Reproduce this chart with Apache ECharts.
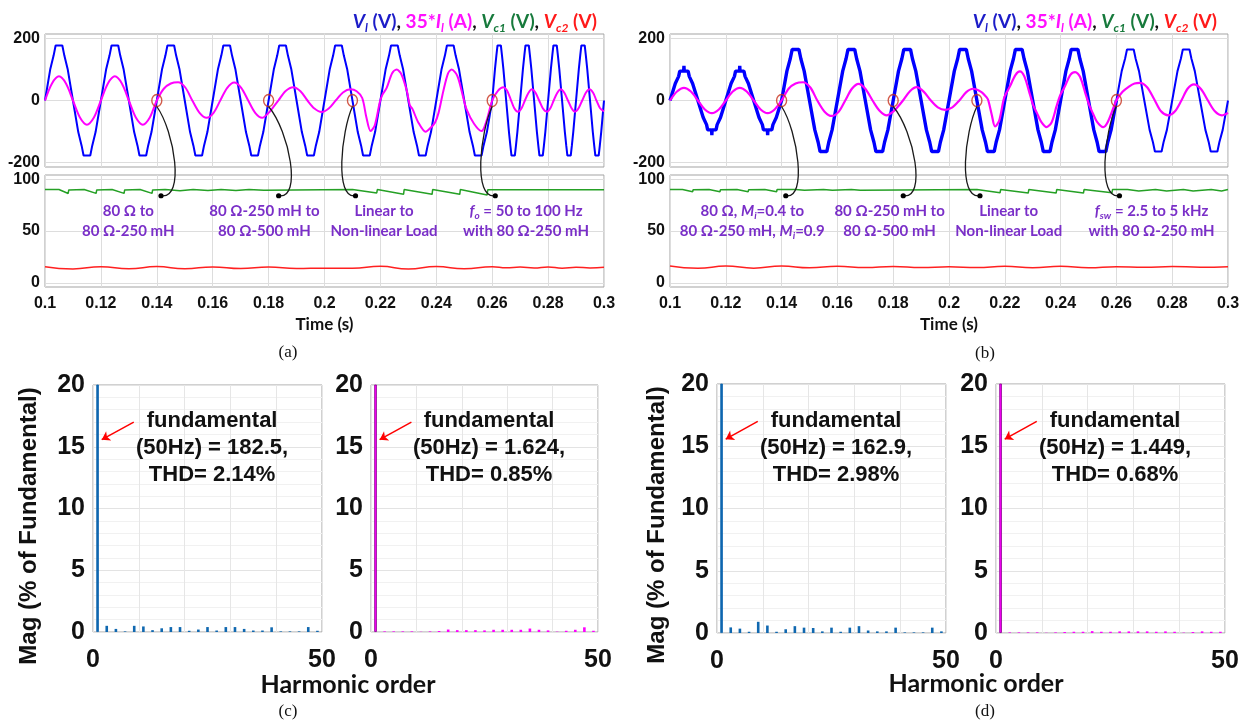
<!DOCTYPE html>
<html><head><meta charset="utf-8">
<script src="https://cdn.jsdelivr.net/npm/echarts@6/dist/echarts.min.js"></script>
<style>html,body{margin:0;padding:0;background:#fff}#c{width:1247px;height:722px}</style>
</head><body><div id="c"></div>
<script>
// ---------------- DATA ----------------
const voltTicks = [-200, 0, 200];
const capTicks = [0, 50, 100];
const harmTickLabels = [0, 50];
const changeTimes = [0.14, 0.18, 0.21, 0.26];

// (a) load voltage V_l
const blueA = [
[0.1,0],[0.1019,102],[0.1031,146],[0.1038,178],[0.1062,178],[0.1069,146],[0.1081,102],[0.11,0],[0.1119,-102],[0.1131,-146],[0.1138,-178],[0.1162,-178],[0.1169,-146],[0.1181,-102],
[0.12,0],[0.1219,102],[0.1231,146],[0.1238,178],[0.1262,178],[0.1269,146],[0.1281,102],[0.13,0],[0.1319,-102],[0.1331,-146],[0.1338,-178],[0.1362,-178],[0.1369,-146],[0.1381,-102],
[0.14,0],[0.1419,102],[0.1431,146],[0.1438,178],[0.1462,178],[0.1469,146],[0.1481,102],[0.15,0],[0.1519,-102],[0.1531,-146],[0.1538,-178],[0.1562,-178],[0.1569,-146],[0.1581,-102],
[0.16,0],[0.1619,102],[0.1631,146],[0.1638,178],[0.1662,178],[0.1669,146],[0.1681,102],[0.17,0],[0.1719,-102],[0.1731,-146],[0.1738,-178],[0.1762,-178],[0.1769,-146],[0.1781,-102],
[0.18,0],[0.1819,102],[0.1831,146],[0.1838,178],[0.1862,178],[0.1869,146],[0.1881,102],[0.19,0],[0.1919,-102],[0.1931,-146],[0.1938,-178],[0.1962,-178],[0.1969,-146],[0.1981,-102],
[0.2,0],[0.2019,102],[0.2031,146],[0.2038,178],[0.2062,178],[0.2069,146],[0.2081,102],[0.21,0],[0.2119,-102],[0.2131,-146],[0.2138,-178],[0.2162,-178],[0.2169,-146],[0.2181,-102],
[0.22,0],[0.2219,102],[0.2231,146],[0.2238,178],[0.2262,178],[0.2269,146],[0.2281,102],[0.23,0],[0.2319,-102],[0.2331,-146],[0.2338,-178],[0.2362,-178],[0.2369,-146],[0.2381,-102],
[0.24,0],[0.2419,102],[0.2431,146],[0.2438,178],[0.2462,178],[0.2469,146],[0.2481,102],[0.25,0],[0.2519,-102],[0.2531,-146],[0.2538,-178],[0.2562,-178],[0.2569,-146],[0.2581,-102],
[0.26,0],[0.261,102],[0.2615,146],[0.2619,178],[0.2631,178],[0.2635,146],[0.264,102],[0.265,0],[0.266,-102],[0.2665,-146],[0.2669,-178],[0.2681,-178],[0.2685,-146],[0.269,-102],
[0.27,0],[0.271,102],[0.2715,146],[0.2719,178],[0.2731,178],[0.2735,146],[0.274,102],[0.275,0],[0.276,-102],[0.2765,-146],[0.2769,-178],[0.2781,-178],[0.2785,-146],[0.279,-102],
[0.28,0],[0.281,102],[0.2815,146],[0.2819,178],[0.2831,178],[0.2835,146],[0.284,102],[0.285,0],[0.286,-102],[0.2865,-146],[0.2869,-178],[0.2881,-178],[0.2885,-146],[0.289,-102],
[0.29,0],[0.291,102],[0.2915,146],[0.2919,178],[0.2931,178],[0.2935,146],[0.294,102],[0.295,0],[0.296,-102],[0.2965,-146],[0.2969,-178],[0.2981,-178],[0.2985,-146],[0.299,-102],[0.3,0]];
// (a) 35*I_l
const magA = [[0.1,0],[0.1025,55],[0.105,78],[0.1075,55],[0.11,0],[0.1125,-55],[0.115,-78],[0.1175,-55],[0.12,0],[0.1225,55],[0.125,78],[0.1275,55],[0.13,0],[0.1325,-55],[0.135,-78],[0.1375,-55],
[0.14,0],[0.1425,38],[0.145,55],[0.1476,59],[0.1502,42],[0.1527,0],[0.1553,-40],[0.1578,-56],[0.1603,-40],[0.1627,0],[0.1652,41],[0.1677,58],[0.1702,41],[0.1727,0],[0.1752,-40],[0.1777,-56],[0.18,-40],
[0.1818,-20],[0.1835,0],[0.186,30],[0.1888,43],[0.1914,30],[0.1939,0],[0.1964,-26],[0.199,-37],[0.2015,-26],[0.204,0],[0.2066,26],[0.2093,36],
[0.2115,30],[0.2135,8],[0.215,-55],[0.2165,-99],[0.218,-80],[0.2198,-5],[0.2207,18],[0.2222,40],[0.2242,88],[0.2258,100],[0.2275,85],[0.2295,30],[0.2305,-15],[0.2315,-28],[0.2335,-70],[0.2362,-101],[0.238,-88],[0.2395,-72],[0.2408,-40],[0.2425,30],[0.2442,88],[0.2455,100],[0.2475,80],[0.2495,15],[0.2508,-28],[0.2535,-75],[0.2562,-99],[0.258,-65],[0.26,0],
[0.2621,32],[0.264,43],[0.2653,32],[0.2666,4],[0.2679,-25],[0.2692,-36],[0.2705,-25],[0.2717,0],[0.273,25],[0.2742,36],[0.2755,25],[0.2768,0],[0.2781,-25],[0.2795,-36],[0.2808,-25],[0.282,0],[0.2833,25],[0.2845,36],[0.2858,25],[0.2871,0],[0.2884,-25],[0.2896,-36],[0.2909,-25],[0.2922,0],[0.2935,25],[0.2948,36],[0.2961,25],[0.2973,0],[0.2986,-25],[0.3,-35]];
// (a) V_c1, V_c2
const greenA = [[0.1,90],[0.105,90],[0.1083,86.2],[0.1085,89.6],[0.114,90],[0.1183,86.3],[0.1185,89.6],[0.124,90],[0.1283,86.3],[0.1285,89.6],[0.134,90],[0.1383,86.3],[0.1385,89.6],[0.143,90],[0.1483,88.8],[0.1485,90],[0.153,90],[0.1583,89],[0.1585,90],[0.163,90],[0.1683,89],[0.1685,90],[0.173,90],[0.1783,89.2],[0.1785,90],[0.21,90],[0.2187,86.7],[0.2189,90],[0.2283,85.5],[0.2285,90],[0.2385,85.4],[0.2387,90],[0.2484,85.4],[0.2486,90],[0.2582,84.8],[0.2584,89.8],[0.3,89.8]];
const redA = [[0.1,15.6],[0.11,13.4],[0.12,15.6],[0.13,13.5],[0.14,15.7],[0.15,13.6],[0.16,15.4],[0.17,13.8],[0.18,15.3],[0.19,13.8],[0.2,14.2],[0.21,14.0],[0.22,15.9],[0.23,13.3],[0.24,15.7],[0.25,13.5],[0.26,15.5],[0.265,14.5],[0.27,15.2],[0.275,14.3],[0.28,15.3],[0.285,14.2],[0.29,15.0],[0.295,14.4],[0.3,15.0]];

// (b) load voltage V_l (2.5 kHz part, then 5 kHz part)
const blueB1 = [
[0.1,0],[0.1019,55],[0.1031,78],[0.1035,95],[0.1049,95],[0.105,112],[0.1051,95],[0.1065,95],[0.1069,78],[0.1081,55],[0.11,0],[0.1119,-55],[0.1131,-78],[0.1135,-95],[0.1149,-95],[0.115,-112],[0.1151,-95],[0.1165,-95],[0.1169,-78],[0.1181,-55],
[0.12,0],[0.1219,55],[0.1231,78],[0.1235,95],[0.1249,95],[0.125,112],[0.1251,95],[0.1265,95],[0.1269,78],[0.1281,55],[0.13,0],[0.1319,-55],[0.1331,-78],[0.1335,-95],[0.1349,-95],[0.135,-112],[0.1351,-95],[0.1365,-95],[0.1369,-78],[0.1381,-55],
[0.14,0],[0.1419,95],[0.1431,135],[0.1438,165],[0.1462,165],[0.1469,135],[0.1481,95],[0.15,0],[0.1519,-95],[0.1531,-135],[0.1538,-165],[0.1562,-165],[0.1569,-135],[0.1581,-95],
[0.16,0],[0.1619,95],[0.1631,135],[0.1638,165],[0.1662,165],[0.1669,135],[0.1681,95],[0.17,0],[0.1719,-95],[0.1731,-135],[0.1738,-165],[0.1762,-165],[0.1769,-135],[0.1781,-95],
[0.18,0],[0.1819,95],[0.1831,135],[0.1838,165],[0.1862,165],[0.1869,135],[0.1881,95],[0.19,0],[0.1919,-95],[0.1931,-135],[0.1938,-165],[0.1962,-165],[0.1969,-135],[0.1981,-95],
[0.2,0],[0.2019,95],[0.2031,135],[0.2038,165],[0.2062,165],[0.2069,135],[0.2081,95],[0.21,0],[0.2119,-95],[0.2131,-135],[0.2138,-165],[0.2162,-165],[0.2169,-135],[0.2181,-95],
[0.22,0],[0.2219,95],[0.2231,135],[0.2238,165],[0.2262,165],[0.2269,135],[0.2281,95],[0.23,0],[0.2319,-95],[0.2331,-135],[0.2338,-165],[0.2362,-165],[0.2369,-135],[0.2381,-95],
[0.24,0],[0.2419,95],[0.2431,135],[0.2438,165],[0.2462,165],[0.2469,135],[0.2481,95],[0.25,0],[0.2519,-95],[0.2531,-135],[0.2538,-165],[0.2562,-165],[0.2569,-135],[0.2581,-95],[0.26,0]];
const blueB2 = [
[0.26,0],[0.2619,95],[0.2631,135],[0.2638,165],[0.2662,165],[0.2669,135],[0.2681,95],[0.27,0],[0.2719,-95],[0.2731,-135],[0.2738,-165],[0.2762,-165],[0.2769,-135],[0.2781,-95],
[0.28,0],[0.2819,95],[0.2831,135],[0.2838,165],[0.2862,165],[0.2869,135],[0.2881,95],[0.29,0],[0.2919,-95],[0.2931,-135],[0.2938,-165],[0.2962,-165],[0.2969,-135],[0.2981,-95],[0.3,0]];
const magB = [[0.1,0],[0.1025,29],[0.105,41],[0.1075,29],[0.11,0],[0.1125,-29],[0.115,-41],[0.1175,-29],[0.12,0],[0.1225,29],[0.125,41],[0.1275,29],[0.13,0],[0.1325,-29],[0.135,-41],[0.1375,-29],
[0.14,0],[0.1425,38],[0.145,55],[0.1477,59],[0.1503,42],[0.1528,0],[0.1554,-36],[0.158,-50],[0.1605,-36],[0.1628,0],[0.1652,38],[0.1676,54],[0.17,38],[0.1726,0],[0.1752,-34],[0.1777,-48],[0.18,-36],
[0.1815,-22],[0.1835,0],[0.186,30],[0.1884,43],[0.191,28],[0.1935,0],[0.196,-22],[0.1986,-30],[0.2012,-22],[0.2037,0],[0.2062,27],[0.2086,38],
[0.2115,28],[0.2135,10],[0.2141,0],[0.2153,-45],[0.2165,-84],[0.218,-65],[0.2195,0],[0.2201,16],[0.2218,45],[0.2238,82],[0.2254,94],[0.227,78],[0.229,20],[0.2302,-16],[0.2315,-40],[0.233,-68],[0.235,-86],[0.2368,-70],[0.2385,-20],[0.2398,16],[0.2415,45],[0.2435,83],[0.2452,92],[0.247,76],[0.249,20],[0.2503,-16],[0.2515,-40],[0.253,-68],[0.2553,-86],[0.257,-68],[0.26,0],
[0.2622,28],[0.2645,45],[0.2665,55],[0.2685,57],[0.271,43],[0.2735,5],[0.276,-35],[0.2786,-48],[0.281,-35],[0.2833,0],[0.2855,38],[0.2878,52],[0.2903,37],[0.2928,0],[0.2953,-35],[0.2978,-48],[0.3,-40]];
const greenB = [[0.1,90],[0.1045,90],[0.1081,87.8],[0.1083,89.8],[0.114,90],[0.1179,87.8],[0.1181,89.8],[0.124,90],[0.128,87.8],[0.1282,89.8],[0.134,90],[0.1382,87.9],[0.1384,90],[0.145,90],[0.1482,89.2],[0.1484,90],[0.155,90],[0.1582,89.3],[0.1584,90],[0.165,90],[0.1682,89.4],[0.1684,90],[0.21,90],[0.2183,86.8],[0.2185,90],[0.2284,86.6],[0.2286,90],[0.2384,86.6],[0.2386,90],[0.2482,86.6],[0.2484,90],[0.2584,86.8],[0.2586,90],[0.264,90],[0.268,88.6],[0.2682,90],[0.274,90],[0.278,88.5],[0.2782,90],[0.284,90],[0.2875,88.5],[0.2877,90],[0.294,90],[0.2977,88.5],[0.2979,90],[0.3,90]];
const redB = [[0.1,16.2],[0.11,14.1],[0.12,16.2],[0.13,14.2],[0.14,16.2],[0.15,14.6],[0.16,16],[0.17,14.8],[0.18,15.8],[0.19,14.8],[0.2,15.5],[0.21,14.8],[0.22,16],[0.23,14.5],[0.24,16],[0.25,14.6],[0.26,15.6],[0.27,15],[0.28,15.8],[0.29,15.1],[0.3,15.6]];

// harmonic spectra (% of fundamental)
const fundamentalOrder = 1;
const fundamentalPct = 100;
const harmonicOrders = [3,5,7,9,11,13,15,17,19,21,23,25,27,29,31,33,35,37,39,41,43,45,47,49];
const specC_V = [0.5,0.25,0.05,0.5,0.45,0.15,0.3,0.4,0.4,0.1,0.2,0.4,0.12,0.4,0.4,0.25,0.12,0.12,0.38,0.05,0.05,0.05,0.4,0.1];
const specC_I = [0.05,0.05,0.05,0.05,0.02,0.05,0.08,0.2,0.15,0.15,0.15,0.13,0.18,0.18,0.18,0.18,0.28,0.18,0.13,0.03,0.1,0.18,0.38,0.1];
const specD_V = [0.45,0.35,0.1,0.9,0.6,0.1,0.3,0.55,0.43,0.4,0.13,0.43,0.1,0.43,0.55,0.2,0.13,0.13,0.43,0.05,0.05,0.05,0.43,0.13];
const specD_I = [0.05,0.05,0.05,0.05,0.02,0.05,0.08,0.1,0.1,0.15,0.1,0.1,0.13,0.13,0.13,0.13,0.1,0.13,0.1,0.03,0.08,0.13,0.1,0.1];
const specTexts = [
  'fundamental\n(50Hz) = 182.5,\nTHD= 2.14%',
  'fundamental\n(50Hz) = 1.624,\nTHD= 0.85%',
  'fundamental\n(50Hz) = 162.9,\nTHD= 2.98%',
  'fundamental\n(50Hz) = 1.449,\nTHD= 0.68%'
];

// ---------------- CHART ----------------
const F_AX = '"Liberation Sans", Arial, sans-serif';
const F_CAL = 'Lato, "Open Sans", sans-serif';
const PURPLE = '#7a2fc8';
const BLUE = '#0000ff', MAG = '#ff00ff', GRN = '#25a025', RED = '#ff2020';
const chart = echarts.init(document.getElementById('c'));

const gridPos = [
  {left:45, top:34, width:559, height:133},
  {left:45, top:175, width:559, height:112},
  {left:670, top:34, width:558, height:133},
  {left:670, top:175, width:558, height:112},
  {left:93, top:385, width:229, height:247},
  {left:371, top:385, width:227, height:247},
  {left:717, top:384, width:229, height:249},
  {left:996, top:384, width:229, height:249}
];
const grid = gridPos.map(g => Object.assign({show:true, borderColor:'#a3a3a3', borderWidth:1, backgroundColor:'#fff', containLabel:false, outerBoundsMode:'none'}, g));

const tickLbl = {fontFamily:F_AX, fontWeight:'bold', fontSize:16, color:'#111'};
function timeX(gi, show) {
  return {type:'value', gridIndex:gi, min:0.1, max:0.3, interval:0.02,
    axisLine:{show:false}, axisTick:{show:false},
    axisLabel:Object.assign({show:show, margin:9, formatter:v => String(+v.toFixed(2))}, tickLbl),
    splitLine:{show:true, lineStyle:{color:'#dddddd'}},
    name: show ? 'Time (s)' : '', nameLocation:'middle', nameGap:29,
    nameTextStyle:{fontFamily:F_CAL, fontWeight:'bold', fontSize:17, color:'#111'}};
}
function valY(gi, min, max, ticks) {
  return {type:'value', gridIndex:gi, min:min, max:max,
    axisLine:{show:false}, axisTick:{show:false, customValues:ticks},
    axisLabel:Object.assign({customValues:ticks, margin:5}, tickLbl),
    splitLine:{show:true, lineStyle:{color:'#dddddd'}}};
}
const specLbl = {fontFamily:F_AX, fontWeight:'bold', fontSize:25, color:'#111'};
function harmX(gi) {
  return {type:'value', gridIndex:gi, min:0, max:50, interval:10,
    axisLine:{show:false}, axisTick:{show:false},
    axisLabel:Object.assign({margin:16, formatter:v => harmTickLabels.indexOf(v) >= 0 ? String(v) : ''}, specLbl),
    splitLine:{show:true, lineStyle:{color:'#e6e6e6'}}};
}
function harmY(gi) {
  return {type:'value', gridIndex:gi, min:0, max:20, interval:5,
    axisLine:{show:false}, axisTick:{show:false},
    axisLabel:Object.assign({margin:8}, specLbl),
    splitLine:{show:true, lineStyle:{color:'#e3e3e3'}},
    minorTick:{show:false, splitNumber:5},
    minorSplitLine:{show:true, lineStyle:{color:'#f1f1f1'}}};
}

const xAxis = [timeX(0,false), timeX(1,true), timeX(2,false), timeX(3,true), harmX(4), harmX(5), harmX(6), harmX(7)];
const yAxis = [valY(0,-215,215,voltTicks), valY(1,-4,104,capTicks), valY(2,-215,215,voltTicks), valY(3,-4,104,capTicks), harmY(4), harmY(5), harmY(6), harmY(7)];

function line(i, data, color, width, extra) {
  return Object.assign({type:'line', xAxisIndex:i, yAxisIndex:i, data:data, showSymbol:false, symbol:'none',
    lineStyle:{color:color, width:width}, itemStyle:{color:color}, silent:true, animation:false}, extra || {});
}
function circles(i) {
  return {type:'scatter', xAxisIndex:i, yAxisIndex:i, data:changeTimes.map(t => [t, 0]),
    symbol:'circle', symbolSize:[10,12], itemStyle:{color:'rgba(0,0,0,0)', borderColor:'#c8321e', borderWidth:1.5}, silent:true, animation:false, z:5};
}
function spec(i, vals, color, border) {
  const data = [{value:[fundamentalOrder, fundamentalPct], itemStyle:{borderColor:border, borderWidth:0.8}}]
    .concat(harmonicOrders.map((h, k) => [h, vals[k]]));
  return {type:'bar', xAxisIndex:i, yAxisIndex:i, data:data, barWidth:2.6, itemStyle:{color:color}, silent:true, animation:false,
    markLine:{silent:true, symbol:['none','arrow'], symbolSize:8, label:{show:false},
      lineStyle:{color:'#ff0000', width:1.5, type:'solid'},
      data:[[{coord:[8.9,17.0]},{coord:[1.9,15.57]}]], animation:false}};
}

const series = [
  line(0, blueA, BLUE, 2),
  line(0, magA, MAG, 2, {smooth:0.3}),
  circles(0),
  line(1, greenA, GRN, 1.5),
  line(1, redA, RED, 1.5, {smooth:0.5}),
  line(2, blueB1, BLUE, 3.4),
  line(2, blueB2, BLUE, 2),
  line(2, magB, MAG, 2.2, {smooth:0.3}),
  circles(2),
  line(3, greenB, GRN, 1.5),
  line(3, redB, RED, 1.5, {smooth:0.5}),
  spec(4, specC_V, '#1068b0', '#1068b0'),
  spec(5, specC_I, MAG, '#8a0090'),
  spec(6, specD_V, '#1068b0', '#1068b0'),
  spec(7, specD_I, MAG, '#8a0090')
];

chart.setOption({animation:false, grid:grid, xAxis:xAxis, yAxis:yAxis, series:series});

// ---------------- ANNOTATIONS ----------------
const px = (gi, x, y) => chart.convertToPixel({gridIndex:gi}, [x, y]);
const nStyle = {fontFamily:F_CAL, fontWeight:'bold', fontSize:15, fill:PURPLE, lineHeight:20};
const annRich = {
  n: nStyle,
  i: Object.assign({}, nStyle, {fontStyle:'italic'}),
  s: Object.assign({}, nStyle, {fontStyle:'italic', fontSize:10, lineHeight:10, verticalAlign:'bottom'})
};
const annA = [
  {t:0.14, dotDt:0.0015, bulge:22, textT:0.1298, text:'{n|80 Ω to}\n{n|80 Ω-250 mH}'},
  {t:0.18, dotDt:0.0036, bulge:26, textT:0.1785, text:'{n|80 Ω-250 mH to}\n{n|80 Ω-500 mH}'},
  {t:0.21, dotDt:0.0011, bulge:-14, textT:0.2213, text:'{n|Linear to}\n{n|Non-linear Load}'},
  {t:0.26, dotDt:0.0011, bulge:-15, textT:0.2721, text:'{i|f}{s|o}{n| = 50 to 100 Hz}\n{n|with 80 Ω-250 mH}'}
];
const annB = [
  {t:0.14, dotDt:0.0015, bulge:20, textT:0.1295, text:'{n|80 Ω, }{i|M}{s|i}{n|=0.4 to}\n{n|80 Ω-250 mH, }{i|M}{s|i}{n|=0.9}'},
  {t:0.18, dotDt:0.0036, bulge:26, textT:0.1787, text:'{n|80 Ω-250 mH to}\n{n|80 Ω-500 mH}'},
  {t:0.21, dotDt:0.0011, bulge:-15, textT:0.2214, text:'{n|Linear to}\n{n|Non-linear Load}'},
  {t:0.26, dotDt:0.0011, bulge:-15, textT:0.2726, text:'{i|f}{s|sw}{n| = 2.5 to 5 kHz}\n{n|with 80 Ω-250 mH}'}
];
const graphics = [];
function addAnn(list, gTop, gBot) {
  list.forEach(a => {
    const c = px(gTop, a.t, 0);
    const x0 = c[0], y0 = c[1] + 6;
    const d = px(gBot, a.t + a.dotDt, 84);
    graphics.push({type:'bezierCurve', silent:true, z:10,
      shape:{x1:x0, y1:y0, cpx1:x0 + 0.8 * a.bulge, cpy1:y0 + 25, cpx2:x0 + 1.3 * a.bulge, cpy2:d[1] + 4, x2:d[0], y2:d[1]},
      style:{stroke:'#1a1a1a', lineWidth:1.3, fill:null}});
    graphics.push({type:'circle', silent:true, z:11, shape:{cx:d[0], cy:d[1], r:2.6}, style:{fill:'#000'}});
    const p = px(gBot, a.textT, 59.6);
    graphics.push({type:'text', silent:true, z:11, x:p[0], y:p[1],
      style:{text:a.text, rich:annRich, align:'center', verticalAlign:'middle'}});
  });
}
addAnn(annA, 0, 1);
addAnn(annB, 2, 3);

// series title texts
const tb = {fontFamily:F_CAL, fontWeight:'bold', fontSize:19, lineHeight:24};
const sb = {fontFamily:F_CAL, fontWeight:'bold', fontStyle:'italic', fontSize:12, lineHeight:12, verticalAlign:'bottom'};
const mk = (base, col, it) => Object.assign({}, base, {fill:col}, it ? {fontStyle:'italic'} : {});
const titleRich = {
  bi:mk(tb,'#1c1cc8',true), bs:mk(sb,'#1c1cc8'), b:mk(tb,'#1c1cc8'),
  mi:mk(tb,'#ff10ff',true), ms:mk(sb,'#ff10ff'), m:mk(tb,'#ff10ff'),
  gi:mk(tb,'#177a3c',true), gs:mk(sb,'#177a3c'), g:mk(tb,'#177a3c'),
  ri:mk(tb,'#ff1a1a',true), rs:mk(sb,'#ff1a1a'), r:mk(tb,'#ff1a1a'),
  k:mk(tb,'#111')
};
const titleText = '{bi|V}{bs|l}{b| (V)}{k|, }{m|35*}{mi|I}{ms|l}{m| (A)}{k|, }{gi|V}{gs|c1}{g| (V)}{k|, }{ri|V}{rs|c2}{r| (V)}';
[[597, 22], [1217, 22]].forEach(p => graphics.push({type:'text', silent:true, x:p[0], y:p[1],
  style:{text:titleText, rich:titleRich, align:'right', verticalAlign:'middle'}}));

// spectrum annotations
[4,5,6,7].forEach((gi, k) => {
  const p = px(gi, 26, 14.9);
  graphics.push({type:'text', silent:true, z:11, x:p[0], y:p[1],
    style:{text:specTexts[k], align:'center', verticalAlign:'middle', fontFamily:F_AX, fontWeight:'bold', fontSize:22, lineHeight:27, fill:'#111'}});
});

// axis titles and panel labels
const txt = (x, y, s, st, rot) => graphics.push(Object.assign({type:'text', silent:true, x:x, y:y, rotation:rot || 0,
  style:Object.assign({text:s, align:'center', verticalAlign:'middle', fill:'#111'}, st)}));
const magSt = {fontFamily:F_AX, fontWeight:'bold', fontSize:24};
txt(29, 526, 'Mag (% of Fundamental)', magSt, Math.PI / 2);
txt(657, 525, 'Mag (% of Fundamental)', magSt, Math.PI / 2);
const hSt = {fontFamily:F_CAL, fontWeight:'bold', fontSize:25};
txt(348, 685, 'Harmonic order', hSt);
txt(976, 684, 'Harmonic order', hSt);
const pSt = {fontFamily:'"Liberation Serif", "Times New Roman", serif', fontSize:17};
txt(288, 353, '(a)', pSt);
txt(985, 354, '(b)', pSt);
txt(288, 712, '(c)', pSt);
txt(985, 712, '(d)', pSt);

chart.setOption({graphic:graphics});
</script></body></html>
